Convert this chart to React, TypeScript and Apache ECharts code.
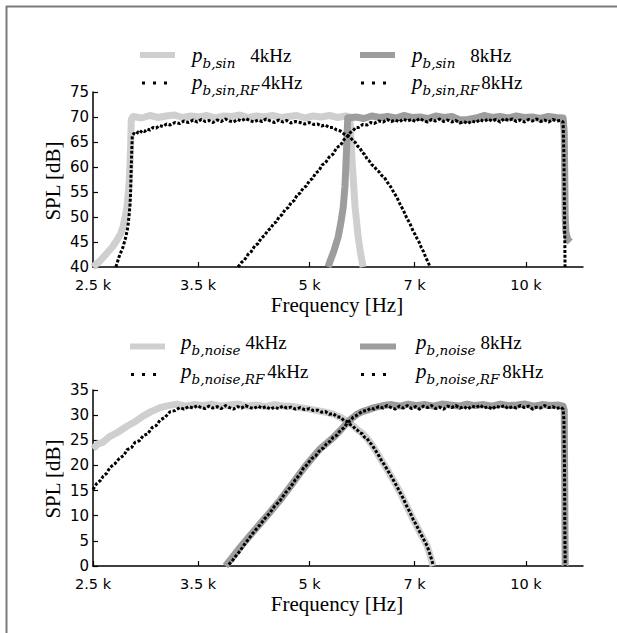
import React, { useEffect, useRef } from 'react';
import * as echarts from 'echarts';

// ---------- tick values ----------
const X_TICKS = [2500, 3500, 5000, 7000, 10000];

// ---------- top panel: sinusoidal excitation ----------
const SIN_G4_F = [2500, 2560, 2615, 2660, 2700, 2730, 2752, 2775, 2787, 2800, 2808, 2815, 2820, 2826, 2842, 2920, 3000, 3080, 3160, 3245, 3330, 3420, 3510, 3600, 3700, 3800, 3900, 4000, 4110, 4220, 4330, 4440, 4560, 4680, 4800, 4930, 5060, 5190, 5330, 5470, 5610, 5690, 5731, 5785, 5842, 5890, 5936];
const SIN_G4_V = [40.0, 41.3, 42.8, 44.0, 45.4, 46.6, 48.0, 50.5, 52.0, 55.0, 57.4, 61.0, 64.0, 69.5, 70.1, 69.8, 70.3, 69.9, 70.2, 70.4, 69.9, 70.2, 70.0, 70.3, 69.8, 70.2, 70.1, 70.4, 69.9, 70.2, 70.0, 70.3, 69.9, 70.1, 70.3, 69.8, 70.2, 70.0, 70.3, 69.9, 70.2, 70.0, 61.0, 52.0, 46.0, 42.6, 40.0];

const SIN_G8_F = [5306, 5350, 5400, 5440, 5480, 5530, 5570, 5600, 5620, 5635, 5650, 5800, 5950, 6100, 6260, 6420, 6590, 6760, 6940, 7120, 7300, 7490, 7690, 7890, 8090, 8300, 8520, 8740, 8970, 9200, 9440, 9690, 9940, 10200, 10470, 10740, 11020, 11260, 11300, 11320, 11335, 11360, 11430, 11520];
const SIN_G8_V = [40.0, 41.5, 43.0, 44.5, 46.0, 49.0, 52.0, 56.0, 61.0, 65.0, 69.8, 70.0, 69.7, 70.2, 69.9, 70.1, 69.8, 70.3, 69.9, 70.0, 69.7, 70.2, 69.9, 70.1, 69.4, 69.5, 69.8, 70.3, 69.9, 70.1, 69.8, 70.2, 69.9, 70.0, 69.7, 70.1, 69.9, 69.8, 67.0, 58.0, 50.0, 47.0, 45.5, 45.0];

const SIN_R4_F = [2690, 2717, 2752, 2777, 2795, 2805, 2815, 2820, 2825, 2830, 2835, 2850, 2870, 2888, 2905, 2925, 2950, 2975, 3000, 3030, 3060, 3095, 3127, 3165, 3200, 3250, 3300, 3345, 3395, 3445, 3490, 3535, 3580, 3625, 3670, 3720, 3770, 3820, 3870, 3920, 3970, 4020, 4075, 4130, 4185, 4240, 4295, 4350, 4410, 4470, 4530, 4590, 4650, 4710, 4780, 4853, 4925, 5000, 5065, 5130, 5195, 5260, 5325, 5393, 5455, 5520, 5585, 5650, 5700, 5750, 5790, 5830, 5875, 5920, 5965, 6012, 6055, 6100, 6150, 6200, 6250, 6300, 6355, 6410, 6480, 6550, 6615, 6683, 6750, 6820, 6890, 6965, 7010, 7060, 7105, 7150, 7200, 7250, 7300, 7357];
const SIN_R4_V = [40.0, 42.0, 44.0, 46.0, 48.0, 50.0, 52.5, 55.0, 59.7, 63.0, 66.3, 66.7, 66.5, 67.0, 66.8, 67.3, 67.1, 67.6, 67.4, 67.9, 67.8, 68.3, 68.1, 68.6, 68.4, 68.9, 68.7, 69.2, 68.9, 69.4, 69.0, 69.5, 69.1, 69.3, 68.9, 69.4, 69.1, 69.6, 69.2, 69.0, 69.5, 69.2, 69.7, 69.3, 69.0, 69.4, 69.1, 69.6, 69.2, 68.9, 69.4, 69.0, 69.3, 68.8, 69.1, 68.9, 68.6, 68.9, 68.5, 68.6, 68.2, 68.4, 67.9, 67.9, 67.4, 67.2, 66.6, 66.3, 65.9, 65.2, 64.9, 64.2, 63.8, 62.9, 62.5, 61.6, 61.2, 60.5, 60.1, 59.4, 59.0, 58.3, 57.9, 57.0, 56.1, 54.9, 53.9, 52.5, 51.4, 49.9, 48.8, 47.2, 46.5, 45.6, 44.9, 43.9, 43.1, 42.0, 41.1, 40.0];

const SIN_R8_F = [3977, 4020, 4060, 4105, 4150, 4195, 4240, 4285, 4330, 4375, 4420, 4455, 4493, 4535, 4580, 4625, 4670, 4715, 4760, 4805, 4853, 4900, 4950, 5000, 5050, 5100, 5150, 5205, 5260, 5325, 5393, 5455, 5520, 5585, 5650, 5700, 5750, 5800, 5850, 5930, 6012, 6080, 6150, 6240, 6330, 6410, 6495, 6580, 6665, 6750, 6840, 6930, 7020, 7110, 7200, 7295, 7390, 7485, 7580, 7680, 7780, 7880, 7985, 8090, 8195, 8300, 8410, 8520, 8630, 8740, 8855, 8970, 9085, 9205, 9325, 9445, 9570, 9695, 9820, 9950, 10080, 10210, 10340, 10475, 10610, 10750, 10890, 11030, 11170, 11260, 11290, 11310, 11330];
const SIN_R8_V = [40.0, 40.9, 41.4, 42.5, 43.1, 44.2, 44.7, 45.8, 46.3, 47.3, 47.8, 48.7, 49.0, 50.0, 50.5, 51.5, 51.9, 52.9, 53.3, 54.4, 54.8, 55.8, 56.2, 57.3, 57.7, 58.8, 59.2, 60.4, 60.8, 62.0, 62.6, 63.9, 64.3, 65.5, 66.2, 66.9, 67.3, 67.9, 67.9, 68.5, 68.4, 68.9, 68.7, 69.2, 69.0, 69.5, 69.1, 69.4, 69.0, 69.6, 69.2, 69.5, 69.1, 69.7, 69.3, 69.0, 69.5, 69.2, 69.6, 69.1, 69.4, 69.0, 69.3, 68.8, 69.1, 68.7, 69.2, 68.9, 69.5, 69.1, 69.6, 69.2, 69.5, 69.0, 69.7, 69.3, 69.6, 69.1, 69.4, 69.0, 69.5, 69.2, 69.6, 69.1, 69.4, 69.0, 69.5, 69.2, 69.3, 69.0, 62.0, 51.0, 40.0];

// ---------- bottom panel: noise excitation ----------
const NOISE_G4_F = [2500, 2540, 2580, 2640, 2700, 2787, 2860, 2935, 3010, 3098, 3180, 3272, 3360, 3450, 3550, 3650, 3760, 3870, 3980, 4100, 4220, 4340, 4470, 4600, 4730, 4853, 5000, 5130, 5260, 5393, 5520, 5650, 5750, 5830, 5920, 6012, 6100, 6200, 6300, 6410, 6550, 6683, 6820, 6965, 7120, 7285, 7360, 7427];
const NOISE_G4_V = [23.3, 24.3, 24.6, 25.8, 26.5, 27.8, 28.7, 29.8, 30.7, 31.5, 31.9, 32.2, 31.8, 32.1, 31.9, 32.2, 31.8, 32.0, 32.2, 31.8, 32.0, 31.7, 32.1, 31.8, 31.7, 31.5, 31.2, 30.9, 30.6, 30.2, 29.6, 28.7, 27.9, 27.1, 26.4, 25.4, 24.2, 22.6, 20.9, 19.2, 16.9, 14.6, 12.0, 9.3, 6.7, 4.0, 2.0, 0.0];

const NOISE_G8_F = [3820, 3900, 4003, 4130, 4268, 4400, 4550, 4700, 4853, 4950, 5030, 5172, 5280, 5393, 5520, 5650, 5740, 5823, 5920, 6012, 6150, 6330, 6500, 6680, 6860, 7050, 7240, 7440, 7640, 7850, 8060, 8280, 8500, 8730, 8970, 9210, 9460, 9720, 9980, 10250, 10530, 10810, 11100, 11260, 11300, 11320, 11335];
const NOISE_G8_V = [0.0, 1.6, 3.7, 6.0, 8.4, 10.6, 13.1, 15.8, 18.5, 20.1, 21.3, 23.3, 24.4, 25.5, 27.0, 28.6, 29.5, 30.2, 30.7, 31.0, 31.5, 31.9, 32.1, 31.8, 32.2, 31.9, 32.1, 31.8, 32.2, 32.0, 31.8, 32.2, 31.9, 32.1, 31.8, 32.2, 31.9, 32.0, 32.2, 31.8, 32.1, 31.9, 32.0, 31.8, 31.0, 15.0, 0.0];

const NOISE_R4_F = [2500, 2530, 2560, 2584, 2610, 2640, 2680, 2720, 2760, 2787, 2830, 2860, 2900, 2935, 2980, 3020, 3060, 3098, 3150, 3200, 3250, 3300, 3345, 3395, 3445, 3490, 3535, 3580, 3625, 3670, 3720, 3770, 3820, 3870, 3920, 3970, 4020, 4075, 4130, 4185, 4240, 4295, 4350, 4410, 4470, 4530, 4590, 4650, 4710, 4780, 4853, 4925, 5000, 5065, 5130, 5195, 5260, 5325, 5393, 5455, 5520, 5585, 5650, 5700, 5750, 5790, 5830, 5875, 5920, 5965, 6012, 6055, 6100, 6150, 6200, 6250, 6300, 6355, 6410, 6480, 6550, 6615, 6683, 6750, 6820, 6890, 6965, 7040, 7120, 7200, 7285, 7330, 7380, 7427];
const NOISE_R4_V = [15.2, 16.4, 17.0, 17.9, 18.4, 19.6, 20.3, 21.4, 22.0, 23.1, 23.6, 24.6, 24.9, 25.9, 26.3, 27.5, 27.9, 29.0, 29.6, 30.7, 30.9, 31.5, 31.2, 31.7, 31.4, 31.9, 31.5, 31.3, 31.8, 31.4, 31.7, 31.3, 31.9, 31.5, 31.2, 31.7, 31.4, 31.9, 31.5, 31.3, 31.8, 31.4, 31.7, 31.2, 31.6, 31.3, 31.8, 31.4, 31.6, 31.2, 31.5, 31.1, 31.3, 30.9, 31.0, 30.6, 30.7, 30.2, 30.3, 29.7, 29.6, 28.9, 28.7, 28.1, 27.8, 27.2, 27.0, 26.5, 26.3, 25.6, 25.4, 24.6, 24.2, 23.4, 22.6, 21.8, 20.9, 20.1, 19.2, 18.1, 16.9, 15.8, 14.6, 13.4, 12.0, 10.8, 9.3, 8.1, 6.7, 5.4, 4.0, 2.9, 1.6, 0.2];

const NOISE_R8_F = [3860, 3900, 3940, 4003, 4060, 4130, 4195, 4268, 4330, 4400, 4470, 4550, 4625, 4700, 4780, 4853, 4900, 4950, 5030, 5100, 5172, 5230, 5280, 5340, 5393, 5455, 5520, 5585, 5650, 5700, 5750, 5823, 5920, 6012, 6080, 6150, 6240, 6330, 6410, 6495, 6580, 6665, 6750, 6840, 6930, 7020, 7110, 7200, 7295, 7390, 7485, 7580, 7680, 7780, 7880, 7985, 8090, 8195, 8300, 8410, 8520, 8630, 8740, 8855, 8970, 9085, 9205, 9325, 9445, 9570, 9695, 9820, 9950, 10080, 10210, 10340, 10475, 10610, 10750, 10890, 11030, 11170, 11260, 11290, 11310, 11320, 11335];
const NOISE_R8_V = [0.3, 0.9, 1.8, 3.0, 4.3, 5.7, 7.0, 8.2, 9.4, 10.5, 11.9, 13.0, 14.5, 15.6, 17.2, 18.3, 19.4, 20.0, 21.3, 21.9, 23.1, 23.5, 24.3, 24.8, 25.6, 26.0, 27.0, 27.5, 28.6, 28.9, 29.6, 30.0, 30.8, 30.9, 31.4, 31.2, 31.7, 31.4, 31.9, 31.5, 31.2, 31.8, 31.4, 31.9, 31.3, 31.7, 31.2, 31.8, 31.5, 31.9, 31.3, 31.6, 31.2, 31.8, 31.5, 31.9, 31.4, 31.7, 31.2, 31.8, 31.5, 32.0, 31.4, 31.7, 31.2, 31.8, 31.5, 31.9, 31.3, 31.7, 31.4, 31.9, 31.5, 31.8, 31.2, 31.6, 31.4, 31.9, 31.5, 31.7, 31.3, 31.6, 31.2, 29.0, 19.0, 9.0, 0.0];

// ---------- titles ----------
const X_TITLE = 'Frequency [Hz]';
const Y_TITLE = 'SPL [dB]';

// ---------- styles ----------
const LIGHT = '#cfcfcf';
const MID = '#9d9d9d';
const SERIF = 'Liberation Serif';
const SANS = 'DejaVu Sans';

const zip = (f: number[], v: number[]) => f.map((x, i) => [x, v[i]]);

function graySeries(name: string, color: string, data: number[][], idx: number) {
  return {
    type: 'line', name, data, xAxisIndex: idx, yAxisIndex: idx,
    showSymbol: false, symbol: 'none', z: 2, silent: true,
    color,
    lineStyle: { color, width: 7, cap: 'butt', join: 'round' },
    emphasis: { disabled: true },
  };
}
function dotSeries(name: string, data: number[][], idx: number) {
  return {
    type: 'line', name, data, xAxisIndex: idx, yAxisIndex: idx,
    showSymbol: false, symbol: 'none', z: 3, silent: true,
    color: '#000',
    lineStyle: { color: '#000', width: 3, type: [3, 1.8], cap: 'butt', join: 'round' },
    emphasis: { disabled: true },
  };
}

function rich(gap: number) {
  return {
    p: { fontFamily: SERIF, fontStyle: 'italic', fontSize: 21, lineHeight: 30, fill: '#000' },
    s: { fontFamily: 'DejaVu Serif', fontStyle: 'italic', fontSize: 13.5, lineHeight: 13, verticalAlign: 'bottom', fill: '#000' },
    n: { fontFamily: SERIF, fontSize: 19, lineHeight: 30, fill: '#000', padding: [0, 0, 0, gap] },
  };
}

function legendLabel(x: number, y: number, sub: string, khz: string, gap: number) {
  return {
    type: 'text', x, y, silent: true,
    style: { text: `{p|p}{s|${sub}}{n|${khz}}`, rich: rich(gap), verticalAlign: 'middle', align: 'left' },
  };
}
function bar(x1: number, x2: number, y: number, color: string) {
  return { type: 'rect', silent: true, shape: { x: x1, y: y - 3, width: x2 - x1, height: 6 }, style: { fill: color } };
}
function dots(x: number, y: number) {
  return [0, 11, 22].map((d) => ({ type: 'rect', silent: true, shape: { x: x + d, y: y - 1.5, width: 3, height: 3 }, style: { fill: '#000' } }));
}
function title(text: string, x: number, y: number, vertical: boolean) {
  return {
    type: 'text', x, y, rotation: vertical ? Math.PI / 2 : 0, silent: true,
    style: {
      text: `{t|${text}}`,
      rich: { t: { fontFamily: SERIF, fontSize: 21, lineHeight: 22, fill: '#000' } },
      align: 'center', verticalAlign: 'middle',
    },
  };
}

function xAxis(idx: number) {
  return {
    type: 'log', logBase: 10, gridIndex: idx, min: 2500, max: 12000,
    axisLine: { lineStyle: { color: '#000', width: 1.5 } },
    axisTick: { show: true, inside: true, length: 5, customValues: X_TICKS, lineStyle: { color: '#000', width: 1.2 } },
    axisLabel: { customValues: X_TICKS, fontFamily: SANS, fontSize: 14.5, color: '#000', margin: 10, formatter: (v: number) => `${v / 1000} k` },
    splitLine: { show: false },
    minorTick: { show: false },
  };
}
function yAxis(idx: number, min: number, max: number) {
  return {
    type: 'value', gridIndex: idx, min, max, interval: 5,
    axisLine: { show: true, lineStyle: { color: '#000', width: 1.5 } },
    axisTick: { show: true, inside: true, length: 5, lineStyle: { color: '#000', width: 1.2 } },
    axisLabel: { fontFamily: SANS, fontSize: 15, color: '#000', margin: 4 },
    splitLine: { show: false },
  };
}

export default function App() {
  const ref = useRef<HTMLDivElement>(null);
  useEffect(() => {
    if (!ref.current) return;
    const chart = echarts.init(ref.current, null, { renderer: 'svg' });
    const option = {
      animation: false,
      backgroundColor: '#fff',
      grid: [
        { left: 93, top: 92, width: 490, height: 175 },
        { left: 93, top: 390, width: 490, height: 176 },
      ],
      xAxis: [xAxis(0), xAxis(1)],
      yAxis: [yAxis(0, 40, 75), yAxis(1, 0, 35)],
      series: [
        graySeries('p_b,sin 4kHz', LIGHT, zip(SIN_G4_F, SIN_G4_V), 0),
        graySeries('p_b,sin 8kHz', MID, zip(SIN_G8_F, SIN_G8_V), 0),
        dotSeries('p_b,sin,RF 4kHz', zip(SIN_R4_F, SIN_R4_V), 0),
        dotSeries('p_b,sin,RF 8kHz', zip(SIN_R8_F, SIN_R8_V), 0),
        graySeries('p_b,noise 4kHz', LIGHT, zip(NOISE_G4_F, NOISE_G4_V), 1),
        graySeries('p_b,noise 8kHz', MID, zip(NOISE_G8_F, NOISE_G8_V), 1),
        dotSeries('p_b,noise,RF 4kHz', zip(NOISE_R4_F, NOISE_R4_V), 1),
        dotSeries('p_b,noise,RF 8kHz', zip(NOISE_R8_F, NOISE_R8_V), 1),
      ],
      graphic: [
        // figure frame (top & left edges)
        { type: 'line', silent: true, shape: { x1: 6, y1: 6.5, x2: 617, y2: 6.5 }, style: { stroke: '#7a7a7a', lineWidth: 2 } },
        { type: 'line', silent: true, shape: { x1: 6.5, y1: 6, x2: 6.5, y2: 633 }, style: { stroke: '#7a7a7a', lineWidth: 2 } },
        // axis titles
        title(Y_TITLE, 53, 181, true),
        title(X_TITLE, 337, 305, false),
        title(Y_TITLE, 53, 479, true),
        title(X_TITLE, 337, 604, false),
        // top legend
        bar(140, 175, 55, LIGHT),
        legendLabel(192, 55, 'b,sin', '4kHz', 15),
        bar(360, 395, 55, MID),
        legendLabel(412, 55, 'b,sin', '8kHz', 15),
        ...dots(142, 83),
        legendLabel(192, 82, 'b,sin,RF', '4kHz', 2),
        ...dots(361, 83),
        legendLabel(412, 82, 'b,sin,RF', '8kHz', 2),
        // bottom legend
        bar(130, 165, 346.5, LIGHT),
        legendLabel(181, 342, 'b,noise', '4kHz', 5),
        bar(360, 396, 346.5, MID),
        legendLabel(416, 342, 'b,noise', '8kHz', 5),
        ...dots(131, 374.5),
        legendLabel(181, 371, 'b,noise,RF', '4kHz', 3),
        ...dots(361, 374.5),
        legendLabel(416, 371, 'b,noise,RF', '8kHz', 3),
      ],
    };
    chart.setOption(option as any);
    return () => chart.dispose();
  }, []);
  return <div ref={ref} style={{ position: 'absolute', left: 0, top: 0, width: 617, height: 633, background: '#fff' }} />;
}
